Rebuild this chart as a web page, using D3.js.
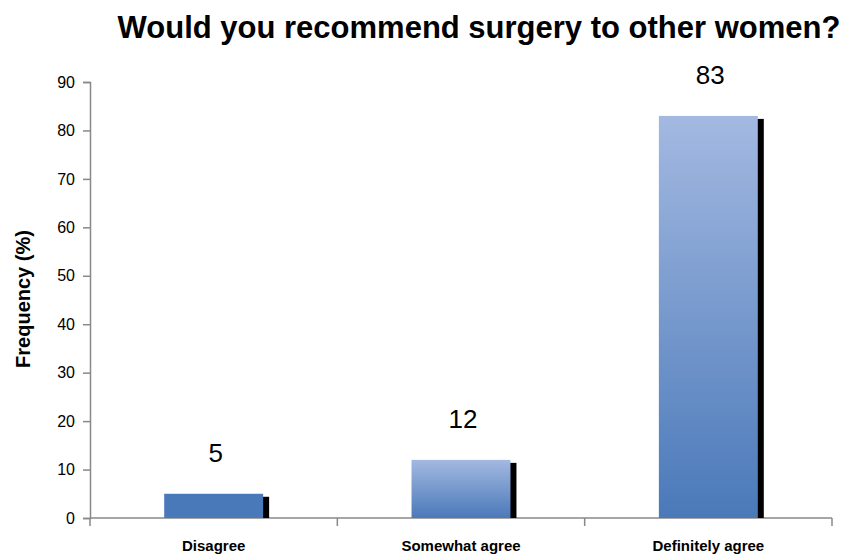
<!DOCTYPE html>
<html>
<head>
<meta charset="utf-8">
<script src="https://cdn.jsdelivr.net/npm/d3@7"></script>
<style>
  body { margin: 0; background: #fff; }
  text { font-family: "Liberation Sans", Arial, sans-serif; }
</style>
</head>
<body>
<svg id="chart"></svg>
<script>
var categories = ["Disagree", "Somewhat agree", "Definitely agree"];
var frequency = [5, 12, 83];
var yTicks = [0, 10, 20, 30, 40, 50, 60, 70, 80, 90];

var svgWidth = 859, svgHeight = 559;
var margin = { left: 90, right: 27, top: 82, bottom: 41 };

var svg = d3.select("#chart").attr("width", svgWidth).attr("height", svgHeight);

var x = d3.scaleBand()
    .domain(categories)
    .range([margin.left, svgWidth - margin.right])
    .paddingInner(0.6)
    .paddingOuter(0.3);

var y = d3.scaleLinear()
    .domain([0, 90])
    .range([svgHeight - margin.bottom, margin.top]);

// gradient for the bars
var defs = svg.append("defs");
var grad = defs.append("linearGradient")
    .attr("id", "barGrad")
    .attr("x1", 0).attr("y1", 0).attr("x2", 0).attr("y2", 1);
grad.append("stop").attr("offset", "0%").attr("stop-color", "#a3b9e1");
grad.append("stop").attr("offset", "100%").attr("stop-color", "#4a79b9");

// title
svg.append("text")
    .attr("x", 479)
    .attr("y", 38)
    .attr("text-anchor", "middle")
    .style("font-size", "31px")
    .style("font-weight", "bold")
    .text("Would you recommend surgery to other women?");

// y axis
var yAxis = svg.append("g")
    .attr("transform", "translate(" + margin.left + ",0)")
    .call(d3.axisLeft(y).tickValues(yTicks).tickSize(7).tickPadding(8));
yAxis.select(".domain").attr("stroke", "#888").attr("stroke-width", 1.5);
yAxis.selectAll(".tick line").attr("stroke", "#888").attr("stroke-width", 1.5);
yAxis.selectAll(".tick text")
    .style("font-size", "16px")
    .style("font-family", "Liberation Sans, Arial, sans-serif")
    .attr("fill", "#000");

// x axis
var xEdges = d3.range(categories.length + 1).map(function (i) {
    return margin.left + i * (svgWidth - margin.right - margin.left) / categories.length;
});
var xAxis = svg.append("g");
xAxis.append("line")
    .attr("x1", margin.left).attr("x2", svgWidth - margin.right)
    .attr("y1", y(0)).attr("y2", y(0))
    .attr("stroke", "#888").attr("stroke-width", 1.5);
xAxis.selectAll(".xtick")
    .data(xEdges)
    .enter().append("line")
    .attr("x1", function (d) { return d; })
    .attr("x2", function (d) { return d; })
    .attr("y1", y(0)).attr("y2", y(0) + 8)
    .attr("stroke", "#888").attr("stroke-width", 1.5);
xAxis.selectAll(".xlabel")
    .data(categories)
    .enter().append("text")
    .attr("x", function (d) { return x(d) + x.bandwidth() / 2; })
    .attr("y", svgHeight - 8)
    .attr("text-anchor", "middle")
    .style("font-size", "15px")
    .style("font-weight", "bold")
    .text(function (d) { return d; });

// y label
svg.append("text")
    .attr("transform", "translate(30," + 299 + ") rotate(-90)")
    .attr("text-anchor", "middle")
    .style("font-size", "20px")
    .style("font-weight", "bold")
    .text("Frequency (%)");

// bars with shadow
var bars = svg.append("g").selectAll("g")
    .data(categories)
    .enter().append("g");

bars.append("rect")
    .attr("x", function (d) { return x(d) + 6; })
    .attr("y", function (d, i) { return y(frequency[i]) + 3; })
    .attr("width", x.bandwidth())
    .attr("height", function (d, i) { return y(0) - y(frequency[i]) - 3; })
    .attr("fill", "#000");

bars.append("rect")
    .attr("x", function (d) { return x(d); })
    .attr("y", function (d, i) { return y(frequency[i]); })
    .attr("width", x.bandwidth())
    .attr("height", function (d, i) { return y(0) - y(frequency[i]); })
    .attr("fill", function (d, i) { return frequency[i] < 10 ? "#4a79b9" : "url(#barGrad)"; });

bars.append("text")
    .attr("x", function (d) { return x(d) + x.bandwidth() / 2 + 2; })
    .attr("y", function (d, i) { return y(frequency[i]) - 32; })
    .attr("text-anchor", "middle")
    .style("font-size", "26px")
    .text(function (d, i) { return frequency[i]; });
</script>
</body>
</html>
